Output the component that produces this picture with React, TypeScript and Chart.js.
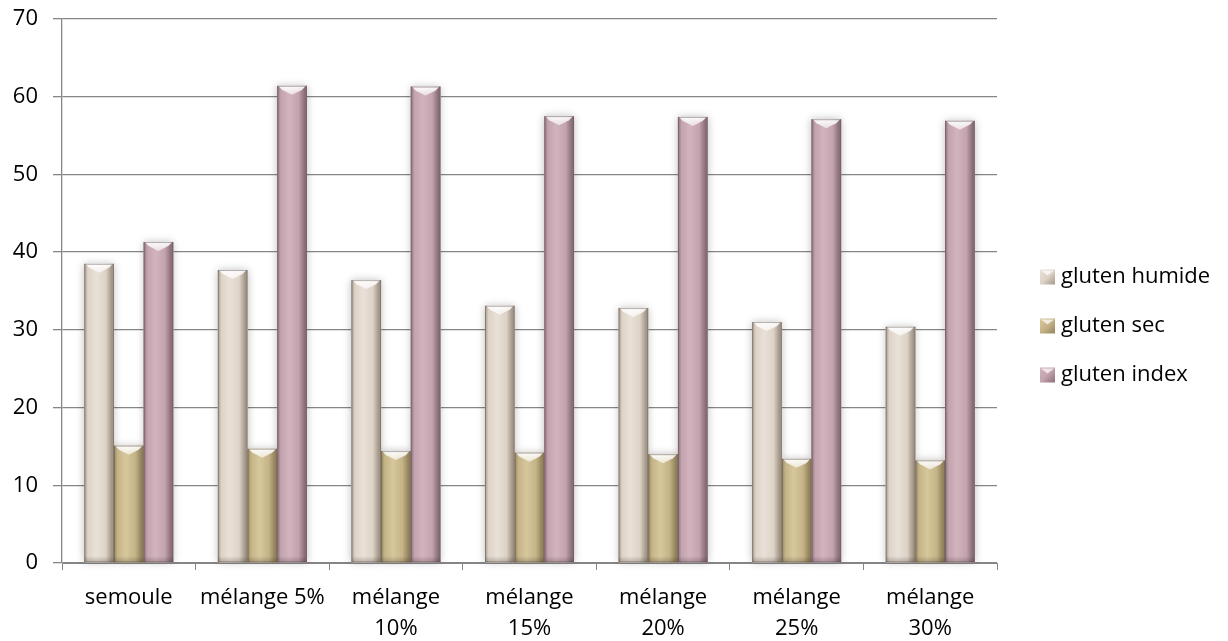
import React, { useEffect, useRef } from "react";
import { Chart, registerables } from "chart.js";

Chart.register(...registerables);

const categories: (string | string[])[] = [
  "semoule",
  "mélange 5%",
  ["mélange", "10%"],
  ["mélange", "15%"],
  ["mélange", "20%"],
  ["mélange", "25%"],
  ["mélange", "30%"],
];

const glutenHumide = [38.5, 37.7, 36.4, 33.1, 32.8, 31.0, 30.4];
const glutenSec = [15.1, 14.7, 14.4, 14.2, 14.0, 13.4, 13.2];
const glutenIndex = [41.3, 61.4, 61.3, 57.5, 57.4, 57.1, 56.9];

const yMin = 0;
const yMax = 70;
const yStep = 10;

const FONT = "'Open Sans', 'Noto Sans', sans-serif";
const GRID = "#868686";

// per-series palette: [base, edge, highlight]
const palettes: Record<string, [string, string, string]> = {
  "gluten humide": ["#ddd3c7", "#a39789", "#e9e1d7"],
  "gluten sec": ["#c5b387", "#93835d", "#d6c89c"],
  "gluten index": ["#c3a3ad", "#8a6f79", "#d2b4be"],
};

// Soft halo behind each bar, then cylinder shading and a bevelled top over it
const barShading = {
  id: "barShading",
  beforeDatasetsDraw(chart: any) {
    const ctx = chart.ctx;
    ctx.save();
    chart.data.datasets.forEach((_: any, di: number) => {
      const meta = chart.getDatasetMeta(di);
      meta.data.forEach((bar: any) => {
        const { x, y, width, base } = bar.getProps(["x", "y", "width", "base"], true);
        ctx.shadowColor = "rgba(0,0,0,0.25)";
        ctx.shadowBlur = 8;
        ctx.fillStyle = "#ffffff";
        ctx.fillRect(x - width / 2, y, width, base - y);
      });
    });
    ctx.restore();
  },
  afterDatasetsDraw(chart: any) {
    const ctx = chart.ctx;
    ctx.save();
    chart.data.datasets.forEach((ds: any, di: number) => {
      const [baseC, edge, hi] = palettes[ds.label];
      const meta = chart.getDatasetMeta(di);
      meta.data.forEach((bar: any) => {
        const { x, y, width, base } = bar.getProps(["x", "y", "width", "base"], true);
        const l = x - width / 2;
        const r = x + width / 2;
        const g = ctx.createLinearGradient(l, 0, r, 0);
        g.addColorStop(0, edge);
        g.addColorStop(0.12, baseC);
        g.addColorStop(0.4, hi);
        g.addColorStop(0.72, baseC);
        g.addColorStop(0.92, edge);
        g.addColorStop(1, edge);
        ctx.fillStyle = g;
        ctx.fillRect(l, y, width, base - y);
        // bevelled top
        const bev = Math.min(9, (base - y) / 2);
        const tg = ctx.createLinearGradient(0, y, 0, y + bev);
        tg.addColorStop(0, "rgba(255,255,255,0.95)");
        tg.addColorStop(1, "rgba(255,255,255,0.6)");
        ctx.fillStyle = tg;
        ctx.beginPath();
        ctx.moveTo(l + 1, y);
        ctx.lineTo(r - 1, y);
        ctx.lineTo(r - 5, y + bev * 0.45);
        ctx.lineTo(x, y + bev);
        ctx.lineTo(l + 5, y + bev * 0.45);
        ctx.closePath();
        ctx.fill();
        // bevelled foot
        const fg = ctx.createLinearGradient(0, base - 6, 0, base);
        fg.addColorStop(0, "rgba(0,0,0,0)");
        fg.addColorStop(1, "rgba(60,50,45,0.25)");
        ctx.fillStyle = fg;
        ctx.fillRect(l, base - 6, width, 6);
        // thin outline
        ctx.strokeStyle = "rgba(90,80,75,0.45)";
        ctx.lineWidth = 1;
        ctx.strokeRect(l + 0.5, y + 0.5, width - 1, base - y - 1);
      });
    });
    ctx.restore();
  },
};

// Series key at the right of the plot, one row per dataset
const sideLegend = {
  id: "sideLegend",
  afterDraw(chart: any) {
    const ctx = chart.ctx;
    const area = chart.chartArea;
    const ds = chart.data.datasets;
    const rowGap = 49;
    const cy = (area.top + area.bottom) / 2 + 35;
    const boxX = area.right + 43;
    const textX = area.right + 64;
    const size = 15;
    ctx.save();
    ctx.font = `22px ${FONT}`;
    ctx.textBaseline = "middle";
    ctx.textAlign = "left";
    ds.forEach((d: any, i: number) => {
      const y = cy + (i - (ds.length - 1) / 2) * rowGap;
      const [baseC, edge, hi] = palettes[d.label];
      const top = y - size / 2;
      const g = ctx.createLinearGradient(boxX, top, boxX + size, top + size);
      g.addColorStop(0, hi);
      g.addColorStop(0.5, baseC);
      g.addColorStop(1, edge);
      ctx.fillStyle = g;
      ctx.fillRect(boxX, top, size, size);
      ctx.fillStyle = "rgba(255,255,255,0.7)";
      ctx.beginPath();
      ctx.moveTo(boxX + 1, top + 1);
      ctx.lineTo(boxX + size - 1, top + 1);
      ctx.lineTo(boxX + size / 2, top + 6);
      ctx.closePath();
      ctx.fill();
      ctx.fillStyle = "#000";
      ctx.fillText(d.label, textX, y);
    });
    ctx.restore();
  },
};

export default function App() {
  const canvasRef = useRef<HTMLCanvasElement | null>(null);

  useEffect(() => {
    if (!canvasRef.current) return;
    const chart = new Chart(canvasRef.current, {
      type: "bar",
      data: {
        labels: categories,
        datasets: [
          { label: "gluten humide", data: glutenHumide, backgroundColor: palettes["gluten humide"][0] },
          { label: "gluten sec", data: glutenSec, backgroundColor: palettes["gluten sec"][0] },
          { label: "gluten index", data: glutenIndex, backgroundColor: palettes["gluten index"][0] },
        ],
      },
      options: {
        animation: false,
        responsive: true,
        maintainAspectRatio: false,
        layout: { padding: { top: 19, left: 11, right: 231, bottom: 0 } },
        datasets: { bar: { categoryPercentage: 0.6667, barPercentage: 1 } },
        plugins: {
          tooltip: { enabled: false },
          legend: { display: false },
        },
        scales: {
          x: {
            afterFit: (scale: any) => {
              scale.height = 78;
              scale.paddingLeft = 0;
              scale.paddingRight = 0;
            },
            grid: { drawOnChartArea: false, color: GRID, tickLength: 7, offset: true },
            border: { color: GRID, width: 1 },
            ticks: {
              color: "#000",
              font: { family: FONT, size: 22, lineHeight: 1.38 },
              padding: 13,
              maxRotation: 0,
              autoSkip: false,
            },
          },
          y: {
            min: yMin,
            max: yMax,
            afterFit: (scale: any) => {
              scale.width = 51;
              scale.paddingTop = 0;
              scale.paddingBottom = 0;
            },
            grid: { color: GRID, tickLength: 9, lineWidth: 1.3 },
            border: { color: GRID, width: 1.3 },
            ticks: {
              stepSize: yStep,
              color: "#000",
              font: { family: FONT, size: 22 },
              padding: 15,
            },
          },
        },
      },
      plugins: [barShading, sideLegend],
    });
    return () => chart.destroy();
  }, []);

  return (
    <div style={{ position: "absolute", left: 0, top: 0, width: 1228, height: 641, background: "#fff" }}>
      <canvas ref={canvasRef} />
    </div>
  );
}
